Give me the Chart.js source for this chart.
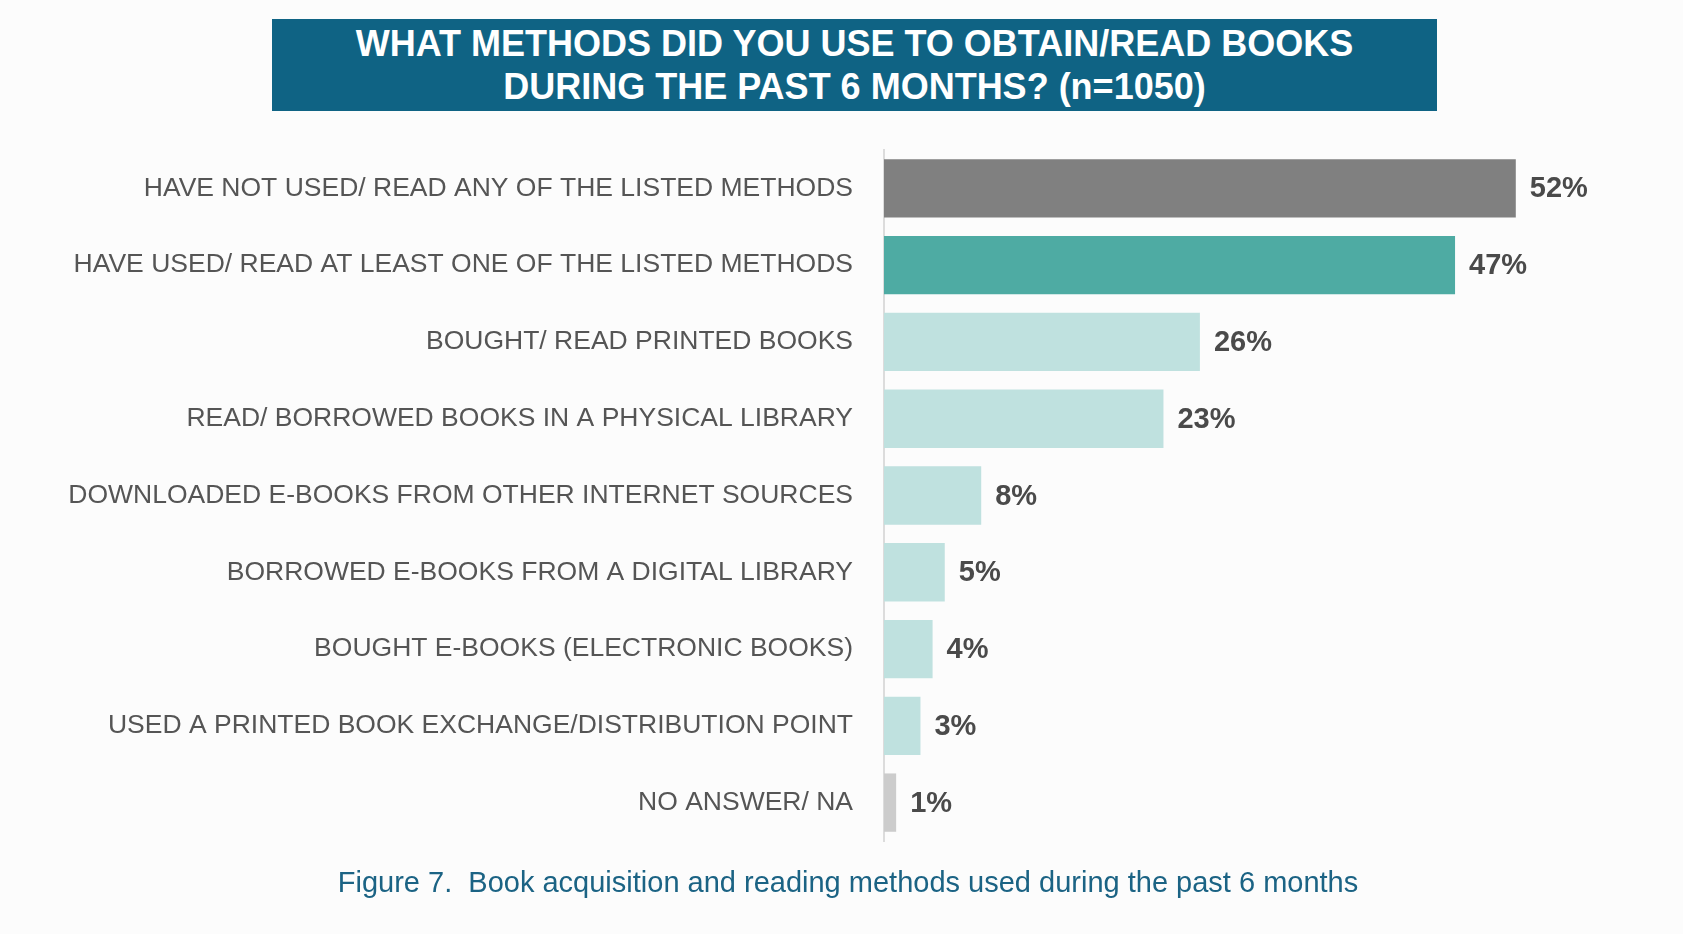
<!DOCTYPE html>
<html>
<head>
<meta charset="utf-8">
<title>Book acquisition methods</title>
<script src="https://cdn.jsdelivr.net/npm/chart.js@4.4.0/dist/chart.umd.min.js"></script>
<style>
    body { margin: 0; background: #fcfcfc; font-family: "Liberation Sans", Arial, sans-serif; }
    #wrap { position: relative; width: 1683px; height: 934px; overflow: hidden; }
    #titulo {
        position: absolute; left: 272px; top: 19px; width: 1165px; height: 92px;
        background: #0f6384; color: #ffffff; font-weight: bold; font-size: 36px;
        text-align: center; line-height: 43px; padding-top: 3px; box-sizing: border-box;
    }
    #pie {
        position: absolute; left: 848px; top: 864px; transform: translateX(-50%);
        white-space: nowrap; color: #1b6384; font-size: 29px; line-height: 36px;
    }
    #chart1 { position: absolute; left: 0; top: 0; }
</style>
</head>
<body>
<div id="wrap">
    <canvas id="chart1" width="1683" height="934"></canvas>
    <div id="titulo">WHAT METHODS DID YOU USE TO OBTAIN/READ BOOKS<br>DURING THE PAST 6 MONTHS? (n=1050)</div>
    <div id="pie">Figure 7.&nbsp; Book acquisition and reading methods used during the past 6 months</div>
</div>
<script>
    // datos
    var arrMetodos = [
        'HAVE NOT USED/ READ ANY OF THE LISTED METHODS',
        'HAVE USED/ READ AT LEAST ONE OF THE LISTED METHODS',
        'BOUGHT/ READ PRINTED BOOKS',
        'READ/ BORROWED BOOKS IN A PHYSICAL LIBRARY',
        'DOWNLOADED E-BOOKS FROM OTHER INTERNET SOURCES',
        'BORROWED E-BOOKS FROM A DIGITAL LIBRARY',
        'BOUGHT E-BOOKS (ELECTRONIC BOOKS)',
        'USED A PRINTED BOOK EXCHANGE/DISTRIBUTION POINT',
        'NO ANSWER/ NA'
    ];
    var arrPorcentaje = [52, 47, 26, 23, 8, 5, 4, 3, 1];
    var arrColores = ['#808080', '#4eaba3', '#bfe1df', '#bfe1df', '#bfe1df', '#bfe1df', '#bfe1df', '#bfe1df', '#cccccc'];

    const etiquetas = {
        id: 'etiquetas',
        afterDatasetsDraw(chart) {
            const ctx = chart.ctx;
            const meta = chart.getDatasetMeta(0);
            ctx.save();
            ctx.font = 'bold 29px "Liberation Sans", Arial, sans-serif';
            ctx.fillStyle = '#4a4a4a';
            ctx.textAlign = 'left';
            ctx.textBaseline = 'middle';
            meta.data.forEach(function (bar, i) {
                ctx.fillText(arrPorcentaje[i] + '%', bar.x + 14, bar.y + 1);
            });
            ctx.restore();
        }
    };

    const dat = {
        labels: arrMetodos,
        datasets: [{
            label: 'Encuestados',
            backgroundColor: arrColores,
            borderWidth: 0,
            data: arrPorcentaje,
            barPercentage: 0.76,
            categoryPercentage: 1.0
        }]
    };

    const config = {
        type: 'bar',
        data: dat,
        options: {
            indexAxis: 'y',
            responsive: false,
            animation: false,
            layout: { padding: { top: 150, bottom: 93, left: 0, right: 70 } },
            plugins: {
                legend: { display: false },
                tooltip: { enabled: false }
            },
            scales: {
                x: {
                    display: false,
                    min: 0,
                    max: 60
                },
                y: {
                    afterFit: function (scale) { scale.width = 884; },
                    grid: { display: false, drawTicks: false },
                    border: { display: true, color: '#dcdcdc', width: 2 },
                    ticks: {
                        padding: 31,
                        color: '#555555',
                        font: { family: '"Liberation Sans", Arial, sans-serif', size: 26.5 }
                    }
                }
            }
        },
        plugins: [etiquetas]
    };

    const myChart = new Chart(
        document.getElementById('chart1'),
        config
    );
</script>
</body>
</html>
